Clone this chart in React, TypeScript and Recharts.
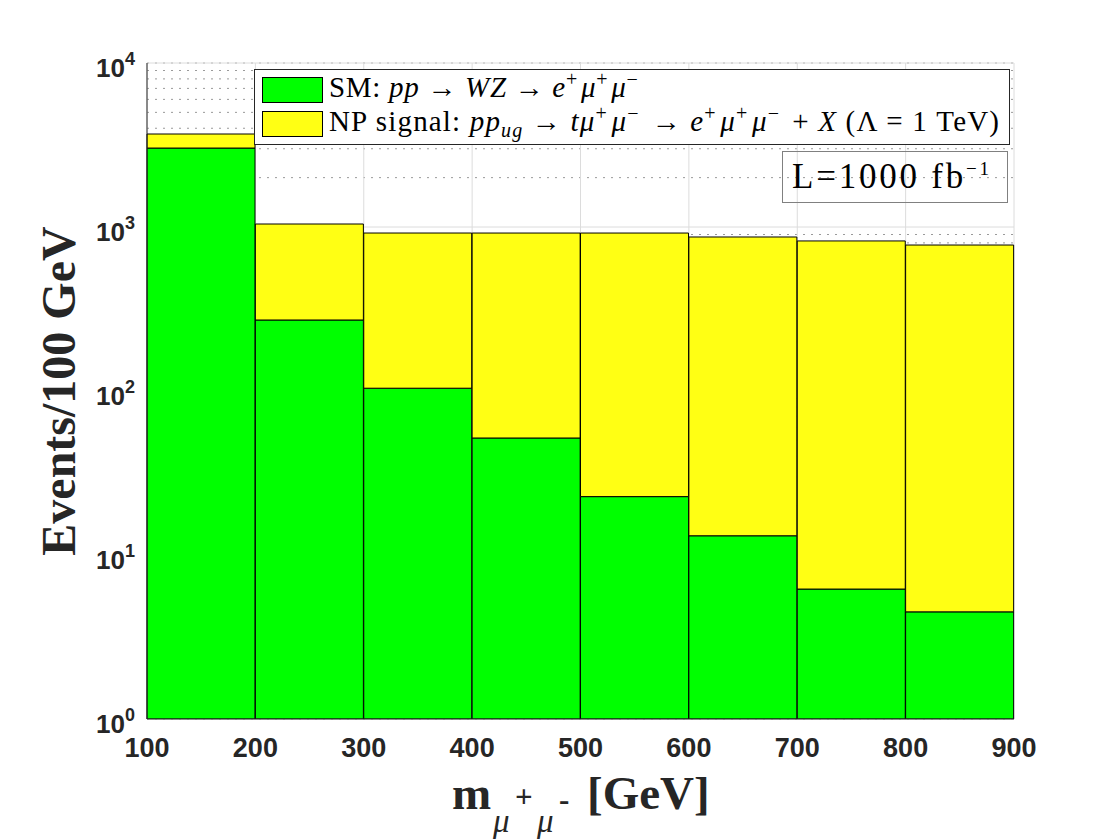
import React from 'react';
import { ComposedChart, Bar, XAxis, YAxis, CartesianGrid, Legend } from 'recharts';

// Bins of m(mu+ mu-) in GeV, events per 100 GeV at L = 1000 fb^-1
const binLabels = ['100-200', '200-300', '300-400', '400-500', '500-600', '600-700', '700-800', '800-900'];
const binCenters = [150, 250, 350, 450, 550, 650, 750, 850];
const smEvents = [3030, 271, 104, 51.7, 22.7, 13.1, 6.2, 4.5];
const npEvents = [660, 772, 815, 867, 896, 856, 816, 772];

const massTicks = [100, 200, 300, 400, 500, 600, 700, 800, 900];
const innerMassTicks = [200, 300, 400, 500, 600, 700, 800];
const decadeTicks = [1, 10, 100, 1000, 10000];
const minorTicks = [
  2, 3, 4, 5, 6, 7, 8, 9,
  20, 30, 40, 50, 60, 70, 80, 90,
  200, 300, 400, 500, 600, 700, 800, 900,
  2000, 3000, 4000, 5000, 6000, 7000, 8000, 9000,
];

const SM_COLOR = '#00ff00';
const NP_COLOR = '#ffff14';
const TEXT = '#262626';
const SANS = "'Liberation Sans', Arial, Helvetica, sans-serif";
const SERIF = "'Liberation Serif', 'Times New Roman', serif";

// stacked on a log axis: each bar is drawn as a [low, high] range
const histData = binLabels.map((bin, i) => ({
  bin,
  center: binCenters[i],
  sm: [1, smEvents[i]],
  np: [smEvents[i], smEvents[i] + npEvents[i]],
}));

// tick marks only, no labels (tick={false} would drop the lines too)
const NoLabel = () => <g />;

const MassTick = (props: any) => {
  const { x, y, payload } = props;
  return (
    <text x={x} y={y + 38} textAnchor="middle" fontFamily={SANS} fontWeight="bold" fontSize={27} fill={TEXT}>
      {payload.value}
    </text>
  );
};

const DecadeTick = (props: any) => {
  const { x, y, payload } = props;
  const exp = Math.round(Math.log10(payload.value));
  return (
    <text x={x - 12} y={y + 14} textAnchor="end" fontFamily={SANS} fontWeight="bold" fontSize={26} fill={TEXT}>
      <tspan>10</tspan>
      <tspan dy={-12} fontSize={18}>{exp}</tspan>
    </text>
  );
};

const renderYLabel = () => (
  <text
    x={0}
    y={0}
    transform="translate(75, 391) rotate(-90)"
    textAnchor="middle"
    fontFamily={SERIF}
    fontWeight="bold"
    fontSize={48}
    fill={TEXT}
  >
    Events/100 GeV
  </text>
);

const renderXLabel = () => (
  <text x={452} y={809} fontFamily={SERIF} fontWeight="bold" fontSize={47} fill={TEXT}>
    <tspan>m</tspan>
    <tspan x={493} y={832} fontStyle="italic" fontWeight="normal" fontSize={33}>μ</tspan>
    <tspan x={515} y={807} fontSize={31}>+</tspan>
    <tspan x={537} y={832} fontStyle="italic" fontWeight="normal" fontSize={33}>μ</tspan>
    <tspan x={559} y={810} fontSize={31}>-</tspan>
    <tspan x={587} y={809}>[GeV]</tspan>
  </text>
);

const Sup = ({ s }: { s: string }) => (
  <>
    <tspan dy={-11} fontSize={20}>{s}</tspan>
    <tspan dy={11}>{'\u200a'}</tspan>
  </>
);

const smFormula = (b: number) => (
  <text x={75} y={b} fontFamily={SERIF} fontSize={29} fill="#000" textLength={312} lengthAdjust="spacing">
    <tspan>SM: </tspan>
    <tspan fontStyle="italic">pp</tspan>
    <tspan> → </tspan>
    <tspan fontStyle="italic">WZ</tspan>
    <tspan> → </tspan>
    <tspan fontStyle="italic">e</tspan>
    <Sup s="+" />
    <tspan fontStyle="italic">μ</tspan>
    <Sup s="+" />
    <tspan fontStyle="italic">μ</tspan>
    <Sup s="−" />
  </text>
);

const npFormula = (b: number) => (
  <text x={75} y={b} fontFamily={SERIF} fontSize={29} fill="#000" textLength={670} lengthAdjust="spacing">
    <tspan>NP signal: </tspan>
    <tspan fontStyle="italic">pp</tspan>
    <tspan dy={6} fontStyle="italic" fontSize={20}>ug</tspan>
    <tspan dy={-6}> → </tspan>
    <tspan fontStyle="italic">tμ</tspan>
    <Sup s="+" />
    <tspan fontStyle="italic">μ</tspan>
    <Sup s="−" />
    <tspan> → </tspan>
    <tspan fontStyle="italic">e</tspan>
    <Sup s="+" />
    <tspan fontStyle="italic">μ</tspan>
    <Sup s="+" />
    <tspan fontStyle="italic">μ</tspan>
    <Sup s="−" />
    <tspan> + </tspan>
    <tspan fontStyle="italic">X</tspan>
    <tspan> (Λ = 1 TeV)</tspan>
  </text>
);

const legendRows = [
  { name: 'SM', fallback: SM_COLOR, formula: smFormula, baseline: 28 },
  { name: 'NP signal', fallback: NP_COLOR, formula: npFormula, baseline: 62 },
];

const renderLegend = (props: any) => {
  const payload = props.payload || [];
  return (
    <svg width={756} height={76} style={{ display: 'block' }}>
      <rect x={0.5} y={0.5} width={755} height={75} fill="#fff" stroke={TEXT} />
      {legendRows.map((row, i) => {
        const entry = payload.find((p: any) => p.value === row.name);
        return (
          <g key={`legend-${row.name}`}>
            <rect x={8.5} y={8.5 + i * 34} width={60} height={25} fill={entry ? entry.color : row.fallback} stroke="#000" />
            {row.formula(row.baseline)}
          </g>
        );
      })}
    </svg>
  );
};

const App = () => {
  return (
    <div style={{ position: 'absolute', left: 0, top: 0, width: 1120, height: 840, background: '#fff' }}>
      <ComposedChart
        width={1120}
        height={840}
        data={histData}
        margin={{ top: 63, right: 106, bottom: 0, left: 0 }}
        barCategoryGap={0}
        barGap={0}
      >
        <CartesianGrid xAxisId="mass" yAxisId="minor" vertical={false} stroke="#9a9a9a" strokeDasharray="2 6" />
        <CartesianGrid xAxisId="mass" yAxisId="major" stroke="#dcdcdc" />

        <XAxis
          xAxisId="mass"
          dataKey="center"
          type="number"
          domain={[100, 900]}
          allowDataOverflow
          ticks={massTicks}
          interval={0}
          height={121}
          tickLine={false}
          tickSize={0}
          tickMargin={0}
          tick={<MassTick />}
          axisLine={{ stroke: TEXT }}
          label={renderXLabel}
        />
        <XAxis xAxisId="binsSm" dataKey="bin" hide height={0} />
        <XAxis xAxisId="binsNp" dataKey="bin" hide height={0} />
        <XAxis
          xAxisId="top"
          orientation="top"
          type="number"
          domain={[100, 900]}
          allowDataOverflow
          ticks={innerMassTicks}
          interval={0}
          height={0}
          tick={<NoLabel />}
          tickSize={-6}
          axisLine={{ stroke: TEXT }}
          tickLine={{ stroke: TEXT }}
        />

        <YAxis
          yAxisId="left"
          scale="log"
          domain={[1, 10000]}
          allowDataOverflow
          ticks={decadeTicks}
          interval={0}
          width={147}
          tickLine={false}
          tickSize={0}
          tickMargin={0}
          tick={<DecadeTick />}
          axisLine={{ stroke: TEXT }}
          label={renderYLabel}
        />
        <YAxis
          yAxisId="major"
          orientation="right"
          scale="log"
          domain={[1, 10000]}
          allowDataOverflow
          ticks={decadeTicks}
          interval={0}
          width={0}
          tick={<NoLabel />}
          tickSize={-8}
          axisLine={{ stroke: TEXT }}
          tickLine={{ stroke: TEXT }}
        />
        <YAxis
          yAxisId="minor"
          orientation="right"
          scale="log"
          domain={[1, 10000]}
          allowDataOverflow
          ticks={minorTicks}
          interval={0}
          width={0}
          tick={<NoLabel />}
          tickSize={-4}
          axisLine={false}
          tickLine={{ stroke: TEXT }}
        />

        <Bar
          xAxisId="binsSm"
          yAxisId="left"
          dataKey="sm"
          name="SM"
          fill={SM_COLOR}
          stroke="#000"
          strokeWidth={1}
          isAnimationActive={false}
        />
        <Bar
          xAxisId="binsNp"
          yAxisId="left"
          dataKey="np"
          name="NP signal"
          fill={NP_COLOR}
          stroke="#000"
          strokeWidth={1}
          isAnimationActive={false}
        />

        <Legend
          layout="vertical"
          align="center"
          verticalAlign="middle"
          content={renderLegend}
          wrapperStyle={{ left: 254, top: 69, width: 756, height: 76 }}
        />
      </ComposedChart>

      <svg
        width={226}
        height={52}
        style={{ position: 'absolute', left: 782, top: 151, pointerEvents: 'none' }}
      >
        <rect x={0.5} y={0.5} width={225} height={51} fill="none" stroke="#808080" />
        <text x={10} y={37} fontFamily={SERIF} fontSize={35} fill="#000" textLength={197} lengthAdjust="spacing">
          <tspan>L=1000 fb</tspan>
          <tspan dy={-13} fontSize={19}>−1</tspan>
        </text>
      </svg>
    </div>
  );
};

export default App;
